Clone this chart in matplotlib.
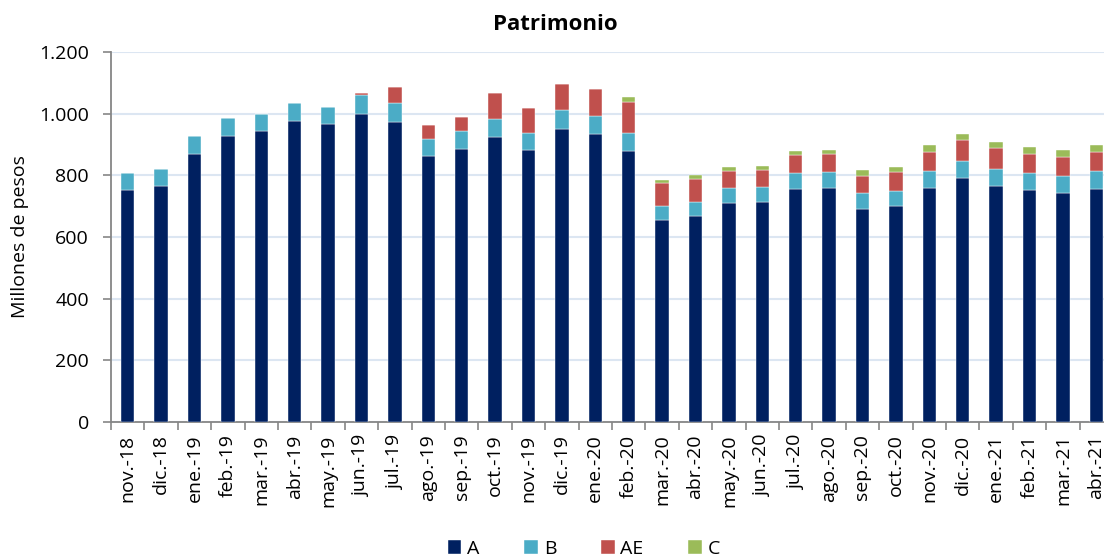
import numpy as np
import matplotlib
matplotlib.use('Agg')
import matplotlib.pyplot as plt
from matplotlib.ticker import FuncFormatter, FixedLocator

plt.rcParams['font.family'] = ['Open Sans', 'DejaVu Sans']

# months and stacked series (millones de pesos)
months = ['nov.-18', 'dic.-18', 'ene.-19', 'feb.-19', 'mar.-19', 'abr.-19', 'may.-19',
          'jun.-19', 'jul.-19', 'ago.-19', 'sep.-19', 'oct.-19', 'nov.-19', 'dic.-19',
          'ene.-20', 'feb.-20', 'mar.-20', 'abr.-20', 'may.-20', 'jun.-20', 'jul.-20',
          'ago.-20', 'sep.-20', 'oct.-20', 'nov.-20', 'dic.-20', 'ene.-21', 'feb.-21',
          'mar.-21', 'abr.-21']
serie_a = [752, 766, 870, 929, 943, 977, 965, 1000, 972, 862, 886, 925, 883, 949,
           935, 880, 656, 669, 711, 715, 757, 760, 692, 702, 760, 790, 766, 751, 744, 757]
serie_b = [56, 55, 58, 57, 56, 58, 57, 59, 63, 56, 58, 59, 55, 62,
           59, 57, 45, 43, 48, 47, 51, 51, 51, 48, 54, 58, 56, 57, 54, 57]
serie_ae = [0, 0, 0, 0, 0, 0, 0, 9, 51, 46, 46, 84, 81, 86,
            86, 102, 73, 77, 56, 56, 57, 59, 56, 60, 63, 68, 67, 62, 63, 63]
serie_c = [0, 0, 0, 0, 0, 0, 0, 0, 0, 0, 0, 0, 0, 0,
           0, 14, 11, 11, 12, 11, 13, 13, 18, 17, 20, 19, 18, 21, 20, 21]
names = ['A', 'B', 'AE', 'C']
colors = ['#002060', '#4BACC6', '#C0504D', '#9BBB59']


def main():
    W, H = 1104, 557
    fig = plt.figure(figsize=(W/100, H/100), dpi=100)
    # plot area runs a little past the right edge, as in the original
    left, right, top, bottom = 111, 1113, 52, 422
    ax = fig.add_axes([left/W, (H-bottom)/H, (right-left)/W, (bottom-top)/H])

    x = np.arange(len(months))
    base = np.zeros(len(months))
    handles = []
    for vals, name, col in zip([serie_a, serie_b, serie_ae, serie_c], names, colors):
        vals = np.array(vals, dtype=float)
        h = ax.bar(x, vals, 0.4, bottom=base, color=col, label=name, zorder=3,
                   edgecolor='white', linewidth=0.3)
        handles.append(h)
        base += vals

    ax.set_xlim(-0.5, len(months)-0.5)
    ax.set_ylim(0, 1200)
    ax.set_yticks(np.arange(0, 1201, 200))
    ax.yaxis.set_major_formatter(FuncFormatter(lambda v, p: f'{int(v):,}'.replace(',', '.')))
    ax.grid(axis='y', color='#DCE6F2', linewidth=1.5, zorder=0)

    # category labels at the centres, tick marks between the categories
    ax.set_xticks(x)
    ax.set_xticklabels(months, rotation=90, fontsize=14)
    ax.xaxis.set_minor_locator(FixedLocator(np.arange(-0.5, len(months), 1.0)))
    ax.tick_params(axis='x', which='major', length=0, pad=9)
    ax.tick_params(axis='x', which='minor', length=6, color='#868686', width=1.2)
    ax.tick_params(axis='y', length=6, color='#868686', width=1.2, labelsize=14, pad=10)

    for s in ['top', 'right']:
        ax.spines[s].set_visible(False)
    for s in ['left', 'bottom']:
        ax.spines[s].set_color('#868686')
        ax.spines[s].set_linewidth(1.3)

    fig.text(20/W, 1 - 237/H, 'Millones de pesos', rotation=90, ha='center',
             va='center', fontsize=14)
    fig.text(555/W, 1 - 24/H, 'Patrimonio', ha='center', va='center',
             fontsize=16, fontweight='bold')

    fig.legend(handles=handles, labels=names, loc='center', ncol=4,
               bbox_to_anchor=(584/W, 8/H), frameon=False, fontsize=14,
               handlelength=0.7, handleheight=0.7, handletextpad=0.3,
               columnspacing=2.3, borderpad=0)

    fig.savefig('out.png', dpi=100)


if __name__ == "__main__":
    main()
